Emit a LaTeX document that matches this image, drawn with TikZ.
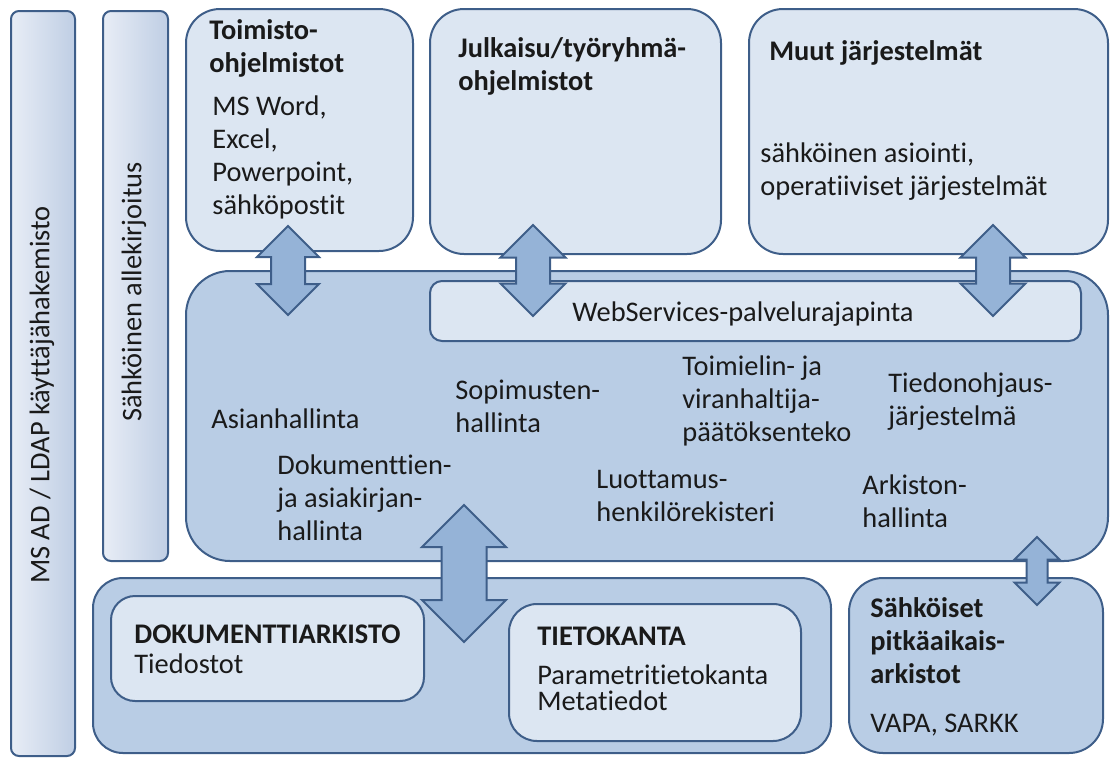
\documentclass[tikz,border=0pt]{standalone}
\usepackage{fontspec}
\setmainfont{Carlito}[Ligatures={NoCommon}]
\usepackage{xcolor}
\usepackage{tikz}
\usetikzlibrary{shapes.arrows,positioning}
\definecolor{ink}{HTML}{1A1A1A}
\definecolor{edgeblue}{HTML}{3E5E89}
\definecolor{paleblue}{HTML}{DCE6F2}
\definecolor{midblue}{HTML}{B9CDE5}
\definecolor{arrowblue}{HTML}{95B3D7}
\definecolor{barlight}{HTML}{E8EDF6}
\definecolor{bardark}{HTML}{BFCEE4}
\tikzset{
  panel/.style={rectangle, draw=edgeblue, line width=1pt, fill=paleblue, anchor=north west, inner sep=0pt},
  deep/.style={panel, fill=midblue},
  sidebar/.style={panel, left color=barlight, right color=bardark, rounded corners=4pt},
  label/.style={anchor=north west, align=left, inner sep=0pt, text=ink, font=\fontsize{14.2}{16.5}\selectfont, execute at begin node=\strut},
  heading/.style={label, font=\fontsize{14.2}{16.5}\selectfont\bfseries},
  tightlabel/.style={label, font=\fontsize{14.2}{13}\selectfont},
  vlabel/.style={rotate=90, inner sep=0pt, text=ink, font=\fontsize{14.2}{16.5}\selectfont},
  flow/.style={double arrow, draw=edgeblue, line width=1pt, fill=arrowblue, rotate=90}
}

\begin{document}
\begin{tikzpicture}[x=0.5pt, y=-0.5pt]
  \useasboundingbox (0,0) rectangle (1110,757);

  % side bars
  \node[sidebar, minimum width=32pt, minimum height=372.5pt] (adbar) at (10,10) {};
  \node[vlabel] (adtext) at (42,395) {MS AD / LDAP käyttäjähakemisto};
  \node[sidebar, minimum width=32.5pt, minimum height=275pt] (sigbar) at (102,10) {};
  \node[vlabel] (sigtext) at (134,292) {Sähköinen allekirjoitus};

  % top row
  \node[panel, rounded corners=17pt, minimum width=113.5pt, minimum height=121pt] (toim) at (185,8) {};
  \node[panel, rounded corners=17pt, minimum width=145.5pt, minimum height=122.5pt] (julk) at (429,8) {};
  \node[panel, rounded corners=17pt, minimum width=179.5pt, minimum height=122.5pt] (muut) at (748,8) {};

  \node[heading] (toimhead) at (209,19) {Toimisto-\\ohjelmistot};
  \node[label] (toimbody) at (212,95) {MS Word,\\Excel,\\Powerpoint,\\sähköpostit};
  \node[heading] (julkhead) at (458,37) {Julkaisu/työryhmä-\\ohjelmistot};
  \node[heading] (muuthead) at (769,37) {Muut järjestelmät};
  \node[label] (muutbody) at (760,142) {sähköinen asiointi,\\operatiiviset järjestelmät};

  % core system
  \node[deep, rounded corners=22pt, minimum width=461pt, minimum height=145pt] (core) at (185,270) {};
  \node[panel, rounded corners=6pt, minimum width=325.5pt, minimum height=30pt] (ws) at (429,280) {};
  \node[anchor=base, inner sep=0pt, text=ink, font=\fontsize{14.2}{16.5}\selectfont] (wstext) at (743,321) {WebServices-palvelurajapinta};

  \node[label] (asia) at (211,405) {Asianhallinta};
  \node[label] (doku) at (277,454) {Dokumenttien-\\ja asiakirjan-\\hallinta};
  \node[label] (sopi) at (455,380) {Sopimusten-\\hallinta};
  \node[label] (toimi) at (682,355) {Toimielin- ja\\viranhaltija-\\päätöksenteko};
  \node[label] (tied) at (888,372) {Tiedonohjaus-\\järjestelmä};
  \node[label] (luot) at (596,470) {Luottamus-\\henkilörekisteri};
  \node[label] (arki) at (862,474) {Arkiston-\\hallinta};

  % storage
  \node[deep, rounded corners=15pt, minimum width=369pt, minimum height=87.5pt] (store) at (92,577) {};
  \node[panel, rounded corners=12pt, minimum width=156.5pt, minimum height=52.5pt] (dok) at (110,595) {};
  \node[panel, rounded corners=14pt, minimum width=146pt, minimum height=68.5pt] (tieto) at (508,603) {};
  \node[deep, rounded corners=17pt, minimum width=127pt, minimum height=87.5pt] (sahk) at (848,577) {};

  \node[heading] (dokhead) at (134,620) {DOKUMENTTIARKISTO};
  \node[label] (dokbody) at (134,650) {Tiedostot};
  \node[heading] (tietohead) at (537,622) {TIETOKANTA};
  \node[tightlabel] (tietobody) at (537,664) {Parametritietokanta\\Metatiedot};
  \node[heading] (sahkhead) at (870,597) {Sähköiset\\pitkäaikais-\\arkistot};
  \node[label] (sahkbody) at (870,709) {VAPA, SARKK};

  % exchange arrows
  \node[flow, minimum height=44.5pt, minimum width=30pt, inner sep=8pt, double arrow head extend=7pt] (a1) at (288,270.5) {};
  \node[flow, minimum height=45.5pt, minimum width=31.5pt, inner sep=8pt, double arrow head extend=7.75pt] (a2) at (533,270.5) {};
  \node[flow, minimum height=45.5pt, minimum width=31.5pt, inner sep=8pt, double arrow head extend=7.75pt] (a3) at (993,270.5) {};
  \node[flow, minimum height=68.5pt, minimum width=41pt, inner sep=10.75pt, double arrow head extend=9.75pt] (a4) at (464,573.5) {};
  \node[flow, minimum height=34pt, minimum width=21.5pt, inner sep=4.75pt, double arrow head extend=6pt] (a5) at (1037,571) {};
\end{tikzpicture}
\end{document}
